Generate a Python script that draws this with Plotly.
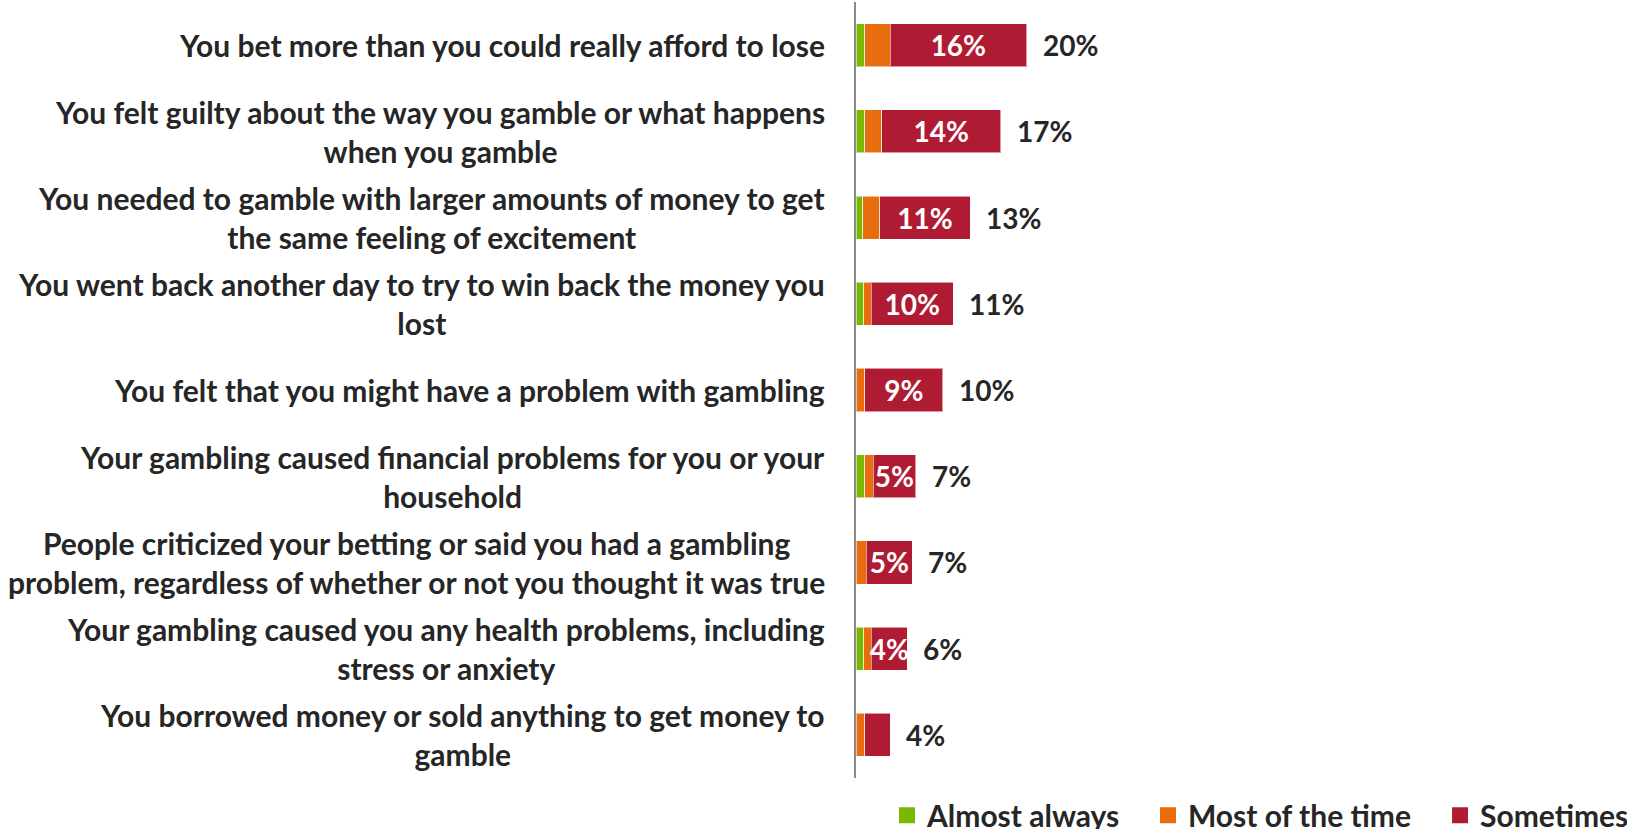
import plotly.graph_objects as go

# Survey items (top to bottom); "<br>" marks the line break in each label
items = [
    "You bet more than you could really afford to lose",
    "You felt guilty about the way you gamble or what happens<br>when you gamble",
    "You needed to gamble with larger amounts of money to get<br>the same feeling of excitement",
    "You went back another day to try to win back the money you<br>lost",
    "You felt that you might have a problem with gambling",
    "Your gambling caused financial problems for you or your<br>household",
    "People criticized your betting or said you had a gambling<br>problem, regardless of whether or not you thought it was true",
    "Your gambling caused you any health problems, including<br>stress or anxiety",
    "You borrowed money or sold anything to get money to<br>gamble",
]

# Share of respondents (%) by frequency
almost_always = [1.0, 1.0, 0.8, 0.9, 0.0, 1.0, 0.0, 0.9, 0.0]
most_of_the_time = [3.0, 2.0, 2.0, 0.9, 1.0, 1.0, 1.2, 0.9, 1.0]
sometimes = [16.0, 14.0, 10.6, 9.6, 9.2, 5.0, 5.4, 4.2, 3.0]

series_names = ["Almost always", "Most of the time", "Sometimes"]
series_colors = ["#78B800", "#E76D0E", "#B01B34"]

FONT = "Lato"
TEXT_COLOR = "#262626"

keys = list(range(len(items)))
totals = [a + b + c for a, b, c in zip(almost_always, most_of_the_time, sometimes)]

fig = go.Figure()
for name, vals, color in zip(series_names, [almost_always, most_of_the_time, sometimes], series_colors):
    show_text = name == "Sometimes"
    fig.add_trace(go.Bar(
        y=keys, x=vals, orientation="h", name=name, showlegend=False,
        marker=dict(color=color, line=dict(color="rgba(255,255,255,0.55)", width=1)),
        text=[f"{v:.0f}%" if (show_text and v >= 3.5) else "" for v in vals],
        textposition="inside", insidetextanchor="middle", textangle=0,
        constraintext="none",
        textfont=dict(family=FONT, size=28, color="white", weight="bold"),
        hoverinfo="skip",
    ))

# Legend entries: one legend per series so each can sit at its own spot
legend_ids = ["legend", "legend2", "legend3"]
legend_x = [0.0402, 0.3787, 0.7575]
for name, color, lid in zip(series_names, series_colors, legend_ids):
    fig.add_trace(go.Scatter(
        x=[None], y=[None], mode="markers", name=name, legend=lid,
        marker=dict(symbol="square", size=17, color=color),
        hoverinfo="skip",
    ))

annotations = []
# Totals at the end of each bar
for k, t in zip(keys, totals):
    annotations.append(dict(
        x=t, y=k, xref="x", yref="y", text=f"{t:.0f}%", showarrow=False,
        xanchor="left", xshift=14,
        font=dict(family=FONT, size=28, color=TEXT_COLOR, weight="bold"),
    ))

# Item labels, right-aligned against the axis, lines centred
for k, label in zip(keys, items):
    annotations.append(dict(
        x=0, y=k, xref="paper", yref="y", text=label, showarrow=False,
        xanchor="right", yanchor="middle", xshift=-29, align="center",
        font=dict(family=FONT, size=30, color=TEXT_COLOR, weight="bold"),
    ))

fig.update_layout(annotations=annotations)

legend_style = dict(orientation="h", y=-0.048, xanchor="left", yanchor="middle",
                    font=dict(family=FONT, size=30, color=TEXT_COLOR, weight="bold"),
                    bgcolor="rgba(0,0,0,0)")

fig.update_layout(
    width=1627, height=829,
    barmode="stack", bargap=0.5,
    plot_bgcolor="white", paper_bgcolor="white",
    margin=dict(l=856, r=0, t=2, b=51, autoexpand=False),
    uniformtext=dict(minsize=28, mode="show"),
    xaxis=dict(range=[0, 90.4], visible=False, showgrid=False, zeroline=False),
    yaxis=dict(type="category", autorange="reversed", showticklabels=False,
               showgrid=False, zeroline=False, ticks="",
               showline=True, linecolor="#8A8A8A", linewidth=2),
    showlegend=True,
    legend=dict(x=legend_x[0], **legend_style),
    legend2=dict(x=legend_x[1], **legend_style),
    legend3=dict(x=legend_x[2], **legend_style),
)

fig.write_html("out.html")
